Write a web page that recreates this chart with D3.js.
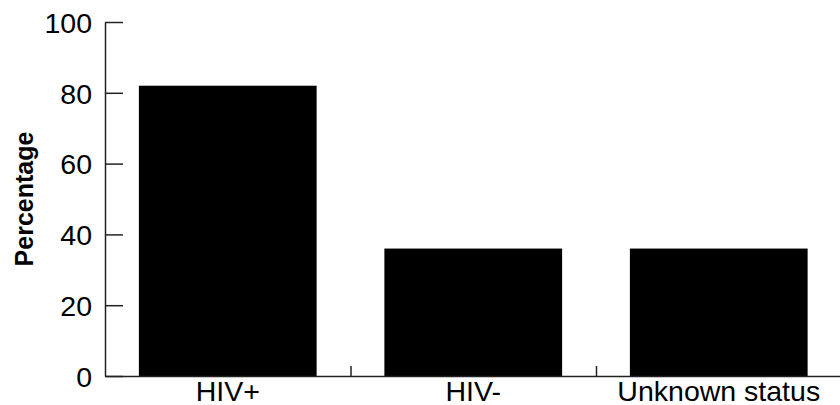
<!DOCTYPE html>
<html>
<head>
<meta charset="utf-8">
<script src="https://cdn.jsdelivr.net/npm/d3@7"></script>
<style>
  body { margin: 0; background: #fff; }
  text { font-family: "Liberation Sans", Arial, sans-serif; fill: #000; }
</style>
</head>
<body>
<svg width="840" height="405"></svg>
<script>
// data
var categories = ["HIV+", "HIV-", "Unknown status"];
var values     = [82, 36, 36];
var yTicks     = [0, 20, 40, 60, 80, 100];

var svg = d3.select("svg");
var mLeft = 105, mRight = 841.5, mTop = 22, mBottom = 376;

var x = d3.scaleBand()
  .domain(categories)
  .range([mLeft, mRight])
  .paddingInner(0.276)
  .paddingOuter(0.138);

var y = d3.scaleLinear()
  .domain([0, 100])
  .range([mBottom, mTop]);

// bars
svg.selectAll("rect.bar")
  .data(values)
  .enter().append("rect")
    .attr("class", "bar")
    .attr("x", function(d, i){ return x(categories[i]); })
    .attr("y", function(d){ return y(d); })
    .attr("width", x.bandwidth())
    .attr("height", function(d){ return y(0) - y(d); })
    .style("fill", "#000");

// y axis, ticks pointing inward
var yAxis = svg.append("g")
  .attr("transform", "translate(" + mLeft + ",0)")
  .call(d3.axisLeft(y).tickValues(yTicks).tickSize(-18).tickPadding(13).tickSizeOuter(0));
yAxis.selectAll("text").style("font-size", "28.5px").attr("dy", "0.36em");

// x axis line with boundary ticks
var xb = d3.scaleLinear().domain([0, categories.length]).range([mLeft, mRight]);
svg.append("g")
  .attr("transform", "translate(0," + mBottom + ")")
  .call(d3.axisBottom(xb).tickValues([1, 2]).tickSize(-10).tickSizeOuter(0).tickFormat(""));

// category labels
var xLab = svg.append("g")
  .attr("transform", "translate(0," + mBottom + ")")
  .call(d3.axisBottom(x).tickSize(0).tickPadding(5));
xLab.select(".domain").remove();
xLab.selectAll("text").style("font-size", "28.5px").attr("dy", "0.71em");

svg.selectAll(".domain, .tick line").style("stroke", "#222").style("stroke-width", 1.5);

// y title
svg.append("text")
  .attr("transform", "translate(33," + ((mTop + mBottom) / 2) + ") rotate(-90)")
  .attr("text-anchor", "middle")
  .style("font-size", "25px")
  .style("font-weight", "bold")
  .text("Percentage");
</script>
</body>
</html>
